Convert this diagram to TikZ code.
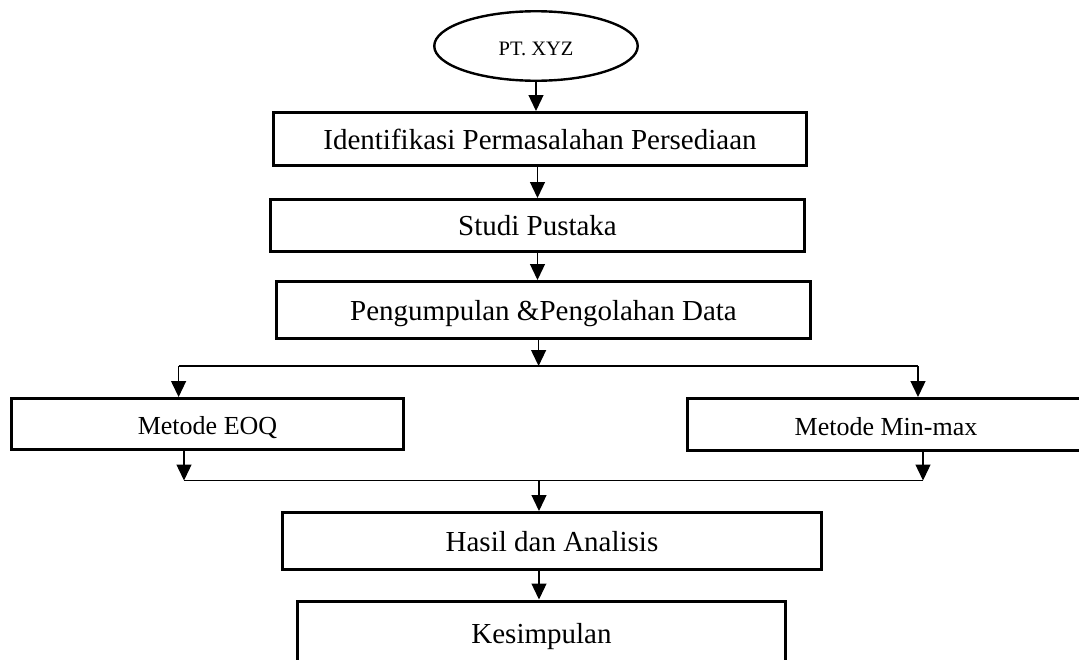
\documentclass[tikz,border=0pt]{standalone}
\usepackage{fontspec}
\setmainfont{Liberation Serif}
\usetikzlibrary{arrows.meta,shapes.geometric,calc}
\begin{document}
\begin{tikzpicture}[x=1pt,y=-1pt,
  stepbox/.style={draw, line width=3pt, inner sep=0pt, text height=20pt, text depth=0pt,
    font=\fontsize{29}{34}\selectfont},
  methbox/.style={draw, line width=3pt, inner sep=0pt, text height=21.5pt, text depth=0pt,
    font=\fontsize{26}{31}\selectfont},
  startnode/.style={ellipse, draw, line width=2.4pt, inner sep=0pt, text height=18pt, text depth=0pt,
    font=\fontsize{20.5}{24}\selectfont},
  conn/.style={line width=1.3pt},
  arr/.style={conn, -{Triangle[length=16pt,width=15pt]}}
]
\useasboundingbox (0,0) rectangle (1079,659);
\clip (0,0) rectangle (1079,659);

\node[startnode, minimum width=203.5pt, minimum height=69.5pt] (start) at (536,46) {PT. XYZ};
\node[stepbox, minimum width=533pt, minimum height=53pt] (b1) at (540,139) {Identifikasi Permasalahan Persediaan};
\node[stepbox, minimum width=534pt, minimum height=52pt] (b2) at (537.5,225.5) {Studi Pustaka};
\node[stepbox, minimum width=534pt, minimum height=57pt] (b3) at (543.5,310) {Pengumpulan \&Pengolahan Data};
\node[methbox, minimum width=392pt, minimum height=51pt] (eoq) at (207.5,424) {Metode EOQ};
\node[methbox, minimum width=397pt, minimum height=52pt] (minmax) at (886,424.5) {Metode Min-max};
\node[stepbox, minimum width=539pt, minimum height=57pt] (hasil) at (552,541) {Hasil dan Analisis};
\node[stepbox, minimum width=488pt, minimum height=64pt] (kes) at (541.5,633) {Kesimpulan};

\coordinate (split) at (538.6,366);
\coordinate (splitL) at (178.6,366);
\coordinate (splitR) at (918,366);
\coordinate (mergeL) at (184,480.5);
\coordinate (mergeR) at (923,480.5);
\coordinate (merge) at (539,480.5);

\draw[arr] (start.south) -- (start.south |- b1.north);
\draw[arr] (b2.north |- b1.south) -- (b2.north);
\draw[arr] (b2.south) -- (b2.south |- b3.north);
\draw[arr] (b3.south -| split) -- (split);
\draw[conn] (splitL) -- (splitR);
\draw[arr] (splitL) -- (splitL |- eoq.north);
\draw[arr] (splitR) -- (splitR |- minmax.north);
\draw[arr] (eoq.south -| mergeL) -- (mergeL);
\draw[arr] (minmax.south -| mergeR) -- (mergeR);
\draw[conn] (mergeL) -- (mergeR);
\draw[arr] (merge) -- (merge |- hasil.north);
\draw[arr] (hasil.south -| merge) -- (merge |- kes.north);
\end{tikzpicture}
\end{document}
